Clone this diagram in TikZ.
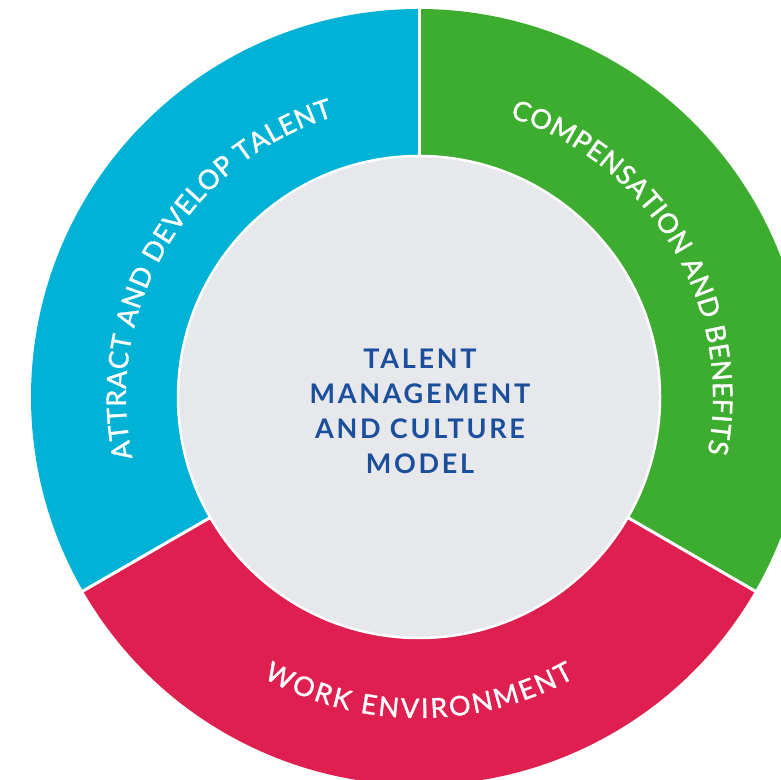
\documentclass[tikz,border=0pt]{standalone}
\usepackage{fontspec}
\setmainfont{Lato}
\newfontfamily\ringfont[FakeBold=1.3]{Lato}
\newfontfamily\corefont[LetterSpace=10]{Lato Bold}
\usetikzlibrary{decorations.text}
\definecolor{cblue}{HTML}{00B2D5}
\definecolor{cgreen}{HTML}{3DAD30}
\definecolor{cred}{HTML}{DE1F4F}
\definecolor{cgray}{HTML}{E6E8EC}
\definecolor{cnavy}{HTML}{1B4E9B}
\tikzset{
  ringtext/.style={decorate, decoration={text along path, text align={fit to path},
     text={|\color{white}\ringfont\fontsize{27}{27}\selectfont|#1}}},
  sep/.style={white, line width=3}
}
\begin{document}
\begin{tikzpicture}[x=1pt,y=1pt]
\useasboundingbox (0,0) rectangle (781,779);
\coordinate (c) at (419,382);
\fill[cblue] (c) -- ++(90:388) arc[start angle=90,end angle=210,radius=388] -- cycle;
\fill[cgreen] (c) -- ++(-30:388) arc[start angle=-30,end angle=90,radius=388] -- cycle;
\fill[cred] (c) -- ++(210:388) arc[start angle=210,end angle=330,radius=388] -- cycle;
\foreach \a in {90,210,330} \draw[sep] (c) -- ++(\a:390);
\fill[cgray, draw=white, line width=2.5] (c) circle[radius=241];
\node[name=core, align=center, text=cnavy, font=\corefont\fontsize{27}{35}\selectfont] at (420,368)
  {TALENT\\MANAGEMENT\\AND CULTURE\\MODEL};
\path[shift={(419,382)}, ringtext={ATTRACT AND DEVELOP TALENT}] (192:293) arc[start angle=192,end angle=107,radius=293];
\path[shift={(419,382)}, ringtext={COMPENSATION AND BENEFITS}] (72:294) arc[start angle=72,end angle=-11,radius=294];
\path[shift={(419,382)}, ringtext={WORK ENVIRONMENT}] (241:321) arc[start angle=241,end angle=299,radius=321];
\end{tikzpicture}
\end{document}
